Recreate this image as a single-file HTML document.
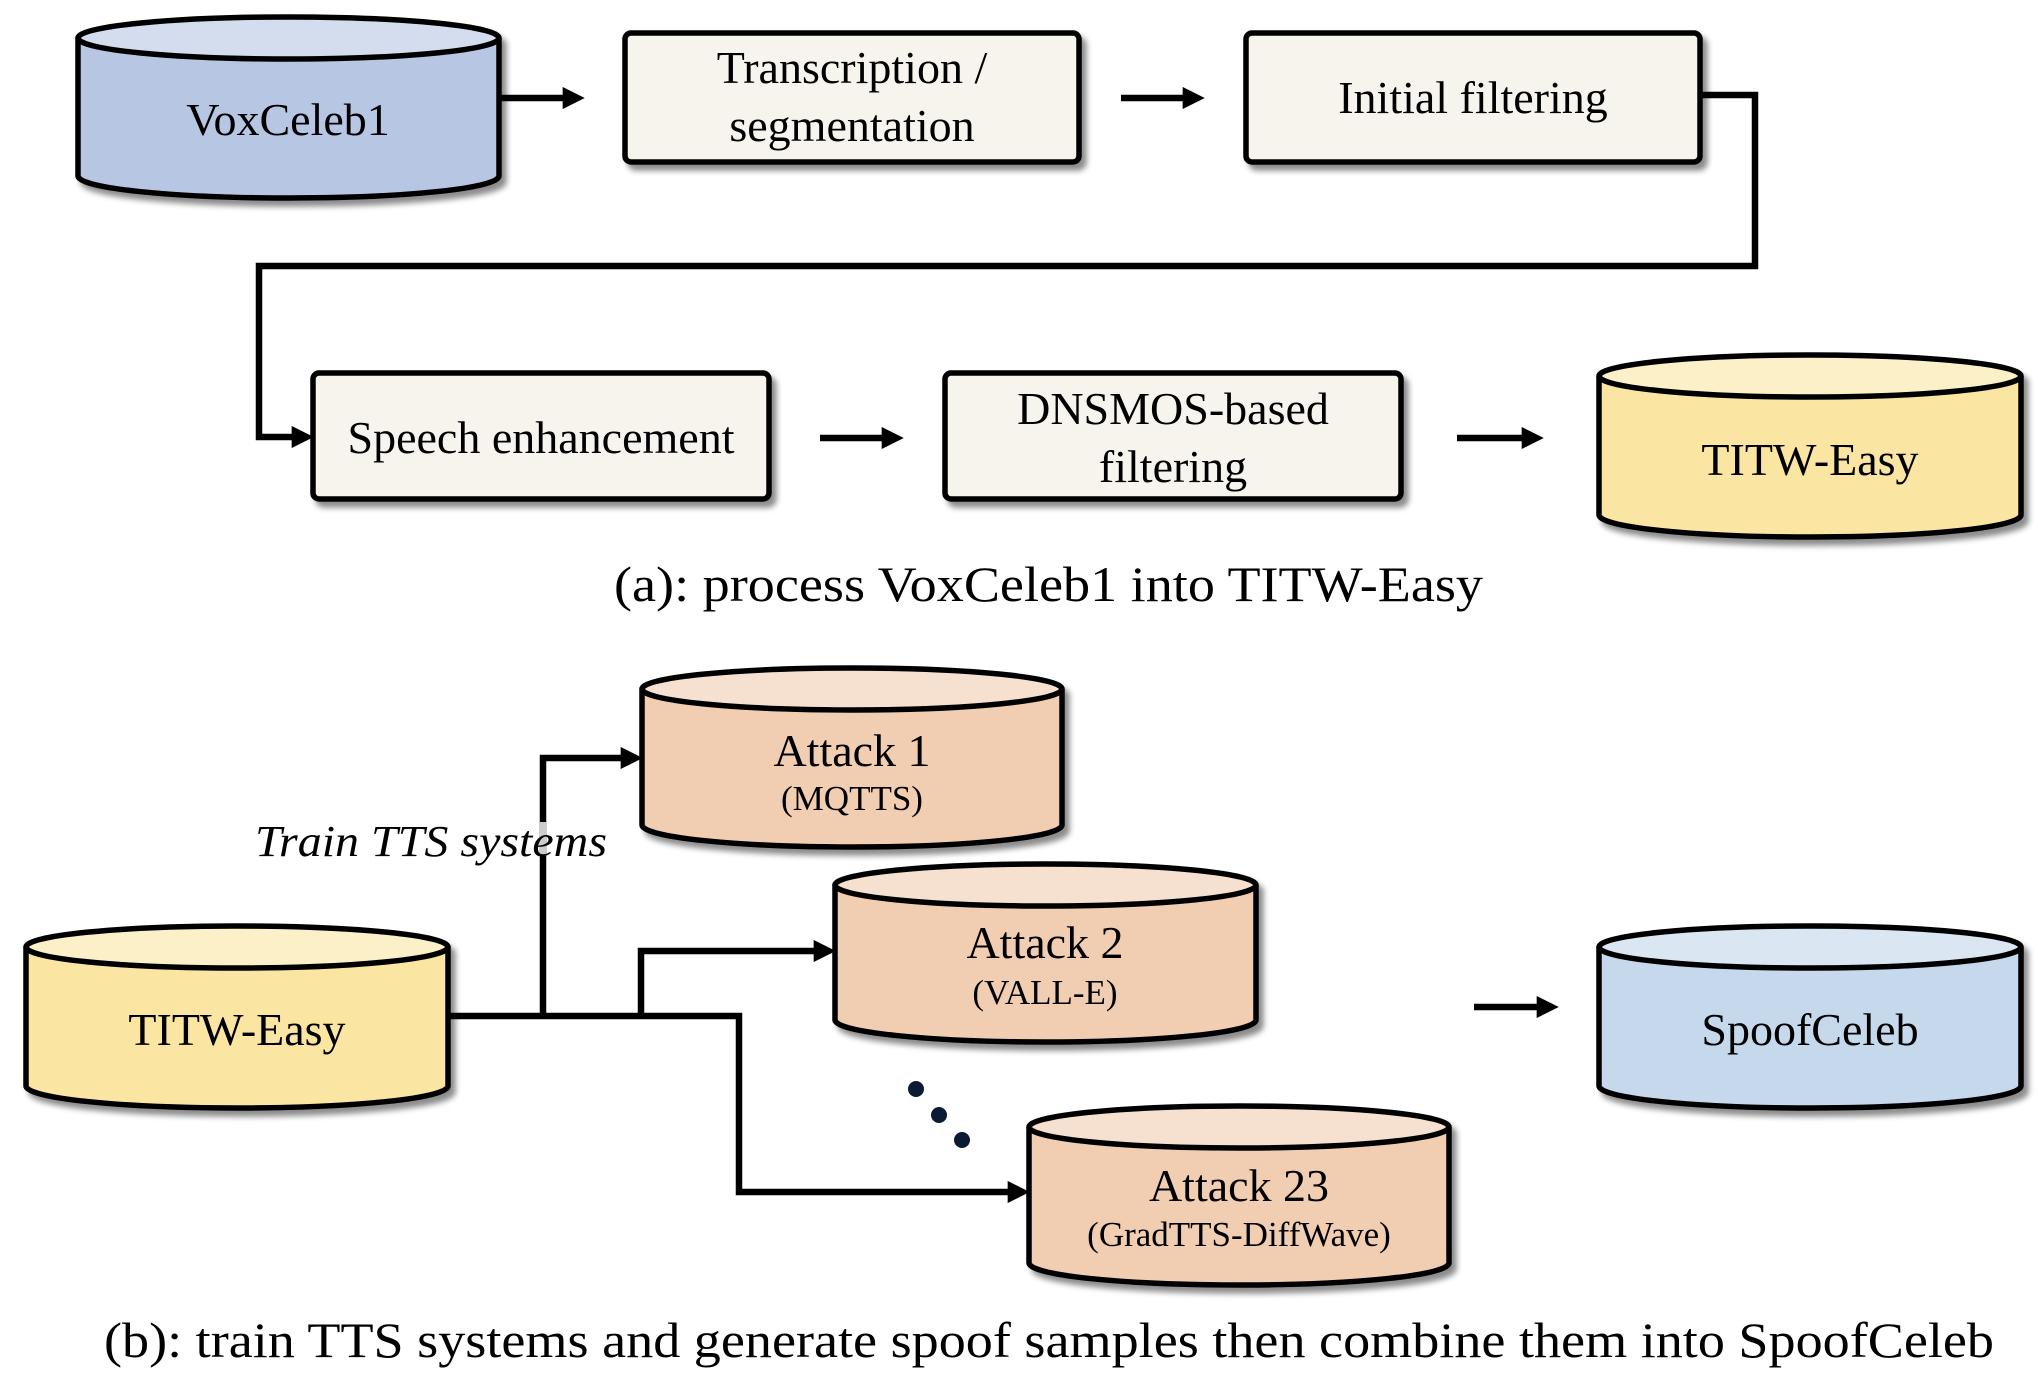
<!DOCTYPE html>
<html><head><meta charset="utf-8"><style>html,body{margin:0;padding:0;background:#fff}svg{display:block}text{font-family:"Liberation Serif",serif;fill:#000}</style></head>
<body>
<svg width="2038" height="1380" viewBox="0 0 2038 1380" xmlns="http://www.w3.org/2000/svg">
<defs>
<filter id="sh" x="-10%" y="-10%" width="125%" height="135%"><feDropShadow dx="5" dy="6" stdDeviation="3" flood-color="#000" flood-opacity="0.45"/></filter>
<marker id="ah" markerWidth="3.4" markerHeight="3.4" refX="1.9" refY="1.7" orient="auto" markerUnits="strokeWidth"><path d="M0,0 L3.4,1.7 L0,3.4 z" fill="#000"/></marker>
</defs>
<g stroke="#000" stroke-width="5.5" fill="none">
<g filter="url(#sh)">
<path d="M78,38 V176 A210.5,22 0 0 0 499,176 V38" fill="#b7c6e3"/>
<ellipse cx="288.5" cy="38" rx="210.5" ry="21" fill="#d3ddee"/>
</g>
<rect x="625" y="33" width="454" height="129" rx="6" fill="#f6f4ec" filter="url(#sh)"/>
<rect x="1246" y="33" width="454" height="129" rx="6" fill="#f6f4ec" filter="url(#sh)"/>
<rect x="313" y="373" width="456" height="126" rx="6" fill="#f6f4ec" filter="url(#sh)"/>
<rect x="945" y="373" width="456" height="126" rx="6" fill="#f6f4ec" filter="url(#sh)"/>
<g filter="url(#sh)">
<path d="M1599,376 V515 A211,22 0 0 0 2021,515 V376" fill="#fae5a2"/>
<ellipse cx="1810" cy="376" rx="211" ry="21" fill="#fcf0c8"/>
</g>
</g>
<g stroke="#000" stroke-width="6.5" fill="none">
<line x1="501" y1="98" x2="575" y2="98" marker-end="url(#ah)"/>
<line x1="1121" y1="98" x2="1195" y2="98" marker-end="url(#ah)"/>
<polyline points="1700,95 1755,95 1755,266 259,266 259,437 304,437" marker-end="url(#ah)"/>
<line x1="820" y1="438" x2="894" y2="438" marker-end="url(#ah)"/>
<line x1="1457" y1="438" x2="1534" y2="438" marker-end="url(#ah)"/>
</g>
<g stroke="#000" stroke-width="5.5" fill="none">
<g filter="url(#sh)">
<path d="M642,689 V825 A210,22 0 0 0 1062,825 V689" fill="#f1cdb1"/>
<ellipse cx="852" cy="689" rx="210" ry="21" fill="#f6e0d0"/>
</g>
<g filter="url(#sh)">
<path d="M835,885 V1020 A210.5,22 0 0 0 1256,1020 V885" fill="#f1cdb1"/>
<ellipse cx="1045.5" cy="885" rx="210.5" ry="21" fill="#f6e0d0"/>
</g>
<g filter="url(#sh)">
<path d="M1029,1127 V1263 A210,22 0 0 0 1449,1263 V1127" fill="#f1cdb1"/>
<ellipse cx="1239" cy="1127" rx="210" ry="21" fill="#f6e0d0"/>
</g>
<g filter="url(#sh)">
<path d="M26,947 V1086 A211,22 0 0 0 448,1086 V947" fill="#fae5a2"/>
<ellipse cx="237" cy="947" rx="211" ry="21" fill="#fcf0c8"/>
</g>
<g filter="url(#sh)">
<path d="M1599,947 V1086 A211,22 0 0 0 2021,1086 V947" fill="#c5d8ec"/>
<ellipse cx="1810" cy="947" rx="211" ry="21" fill="#dbe6f3"/>
</g>
</g>
<g stroke="#000" stroke-width="6.5" fill="none">
<polyline points="448,1016 739,1016 739,1192 1020,1192" marker-end="url(#ah)"/>
<polyline points="543,1016 543,758 633,758" marker-end="url(#ah)"/>
<polyline points="641,1016 641,951 826,951" marker-end="url(#ah)"/>
<line x1="1474" y1="1007" x2="1549" y2="1007" marker-end="url(#ah)"/>
</g>
<rect x="539" y="822" width="8" height="34" fill="#ccc"/>
<circle cx="916" cy="1089" r="8" fill="#0d1a33"/>
<circle cx="939" cy="1115" r="8" fill="#0d1a33"/>
<circle cx="962" cy="1140" r="8" fill="#0d1a33"/>
<g font-size="46" text-anchor="middle">
<text x="288" y="135">VoxCeleb1</text>
<text x="852" y="83">Transcription /</text>
<text x="852" y="141">segmentation</text>
<text x="1473" y="113">Initial filtering</text>
<text x="541" y="453">Speech enhancement</text>
<text x="1173" y="424">DNSMOS-based</text>
<text x="1173" y="482">filtering</text>
<text x="1810" y="475">TITW-Easy</text>
<text x="852" y="766">Attack 1</text>
<text x="1045" y="958">Attack 2</text>
<text x="1239" y="1201">Attack 23</text>
<text x="237" y="1045">TITW-Easy</text>
<text x="1810" y="1045">SpoofCeleb</text>
</g>
<g font-size="35" text-anchor="middle">
<text x="852" y="810">(MQTTS)</text>
<text x="1045" y="1004">(VALL-E)</text>
<text x="1239" y="1246">(GradTTS-DiffWave)</text>
</g>
<text x="255" y="856" font-size="44" font-style="italic" textLength="352" lengthAdjust="spacingAndGlyphs">Train TTS systems</text>
<text x="614" y="601" font-size="50" textLength="869" lengthAdjust="spacingAndGlyphs">(a): process VoxCeleb1 into TITW-Easy</text>
<text x="104" y="1357" font-size="50" textLength="1890" lengthAdjust="spacingAndGlyphs">(b): train TTS systems and generate spoof samples then combine them into SpoofCeleb</text>
</svg>
</body></html>
